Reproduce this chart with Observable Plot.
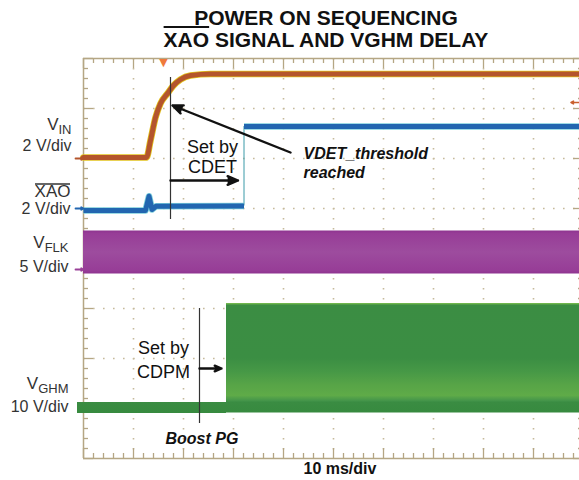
<!DOCTYPE html>
<html><head><meta charset="utf-8">
<script src="https://cdn.jsdelivr.net/npm/d3@7"></script>
<script src="https://cdn.jsdelivr.net/npm/@observablehq/plot@0.6"></script>
<style>
body{margin:0;background:#fff;}
#wrap{position:relative;width:579px;height:480px;overflow:hidden;}
#chart{position:absolute;left:0;top:0;}
#title{position:absolute;left:76px;top:7px;width:500px;text-align:center;font:bold 21px/22px "Liberation Sans",Arial,sans-serif;color:#111;z-index:2;}
.ov{text-decoration:overline;text-decoration-thickness:2px;}
</style></head>
<body><div id="wrap"><div id="chart"></div><div id="title"></div></div>
<script>
// ---- text ----
const titleLines = ["POWER ON SEQUENCING", "XAO SIGNAL AND VGHM DELAY"];
const overlinedWord = "XAO";
const timeLabel = "10 ms/div";

// ---- channels ----
const channelNames = ["VIN", "XAO", "VFLK", "VGHM"];
const channelOffsetDiv = [6.0, 5.0, 3.78, 1.0];
const channelVoltsPerDiv = [2, 2, 5, 10];
const channelColors = ["#b4552c", "#2266b0", "#9a4098", "#3a8c42"];
const labelMain = ["V", "XAO", "V", "V"];
const labelSub = ["IN", "", "FLK", "GHM"];

// ---- traces (time in ms, values in volts) ----
const vinTime  = [0, 12.6, 13.4, 14.4, 15.4, 16.8, 18.0, 19.4, 21.4, 25.4, 99.2];
const vinVolts = [0.04, 0.04, 0.72, 1.64, 2.2, 2.6, 2.92, 3.16, 3.32, 3.38, 3.38];

const xaoTime  = [0, 12.4, 13.1, 13.7, 14.5, 32.1, 32.1, 99.2];
const xaoVolts = [-0.08, -0.08, 0.49, -0.04, 0.09, 0.1, 3.28, 3.28];
const xaoSegment = [0, 0, 0, 0, 0, 0, 1, 1];

const vflkTime = [0, 99.2];
const vflkLow  = [-0.45, -0.45];
const vflkHigh = [3.85, 3.85];

const vghmTime = [-1.2, 28.6, 28.6, 99.2];
const vghmLow  = [-1.0, -1.0, -0.9, -0.9];
const vghmHigh = [1.2, 1.2, 21.0, 21.0];

// ---- helpers ----
const toDiv = (ch, v) => channelOffsetDiv[ch] + v / channelVoltsPerDiv[ch];
const vinRows = vinTime.map((t, i) => ({t, y: toDiv(0, vinVolts[i])}));
const xaoRows = xaoTime.map((t, i) => ({t, y: toDiv(1, xaoVolts[i]), seg: xaoSegment[i]}));
const xaoEdges = xaoRows.slice(1).map((r, i) => ({prev: xaoRows[i], cur: r})).filter(e => e.cur.seg !== e.prev.seg)
  .map(e => ({t: e.cur.t, y1: e.prev.y, y2: e.cur.y}));
const vflkRows = vflkTime.map((t, i) => ({t, lo: toDiv(2, vflkLow[i]), hi: toDiv(2, vflkHigh[i])}));
const vghmRows = vghmTime.map((t, i) => ({t, lo: toDiv(3, vghmLow[i]), hi: toDiv(3, vghmHigh[i])}));

const xMinor = d3.range(0, 100.001, 2).map(v => +v.toFixed(3));
const yMinor = d3.range(0, 8.0001, 0.2).map(v => +v.toFixed(3));
const xMajor = d3.range(10, 100, 10);
const yMajor = d3.range(1, 8, 1);
const xIsMajor = v => Math.abs(v / 10 - Math.round(v / 10)) < 1e-6;
const yIsMajor = v => Math.abs(v - Math.round(v)) < 1e-6;

const tan = "#b5a684", dotc = "#c6ba9c", ink = "#111";

// annotation layout (data coords: ms, div)
const labelRight = [-2.4, -2.6, -3.0, -3.0];
const mainRight  = [-5.0, -2.6, -7.76, -9.06];
const mainY = [6.58, 5.24, 4.22, 1.40];
const subY  = [6.49, 0, 4.13, 1.31];
const scaleY = [6.16, 4.90, 3.74, 0.94];
const chIdx = [0, 1, 2, 3];

const notes = [
  {text: "Set by", x: 25.8, y: 6.12},
  {text: "CDET", x: 25.8, y: 5.72},
  {text: "Set by", x: 16.0, y: 2.10},
  {text: "CDPM", x: 16.0, y: 1.62}
];
const boldNotes = [
  {text: "VDET_threshold", x: 44, y: 6.0},
  {text: "reached", x: 44, y: 5.62},
  {text: "Boost PG", x: 16.4, y: 0.30}
];
const arrows = [
  {x1: 41.4, y1: 6.12, x2: 17.8, y2: 7.06},
  {x1: 17.4, y1: 5.56, x2: 30.9, y2: 5.56},
  {x1: 23.2, y1: 1.8, x2: 27.6, y2: 1.8}
];
const markerLines = [
  {x: 17.4, y1: 7.62, y2: 4.78},
  {x: 23.2, y1: 3.0, y2: 0.7}
];

// ---- title ----
document.getElementById("title").innerHTML =
  titleLines[0] + "<br>" +
  titleLines[1].replace(overlinedWord, `<span class="ov">${overlinedWord}</span>`);

const plot = Plot.plot({
  width: 579, height: 480,
  marginLeft: 83, marginRight: 0, marginTop: 58, marginBottom: 22,
  x: {domain: [0, 99.2], axis: null},
  y: {domain: [0, 8], axis: null},
  style: {fontFamily: "'Liberation Sans', Arial, sans-serif", background: "transparent", overflow: "visible", color: ink},
  marks: [
    // dotted graticule
    Plot.ruleX(xMajor, {x: d => d, stroke: dotc, strokeWidth: 1.6, strokeDasharray: "1.6,8.4"}),
    Plot.ruleY(yMajor, {y: d => d, stroke: dotc, strokeWidth: 1.6, strokeDasharray: "1.6,8.4"}),
    // frame
    Plot.ruleX([0], {x: d => d, stroke: tan, strokeWidth: 1.5}),
    Plot.ruleY([0, 8], {y: d => d, stroke: tan, strokeWidth: 1.5}),
    // minor/major ticks
    Plot.ruleX(xMinor, {x: d => d, y1: 8, y2: d => xIsMajor(d) ? 7.8 : 7.9, stroke: tan, strokeWidth: 1.3}),
    Plot.ruleX(xMinor, {x: d => d, y1: 0, y2: d => xIsMajor(d) ? 0.2 : 0.1, stroke: tan, strokeWidth: 1.3}),
    Plot.ruleY(yMinor, {y: d => d, x1: 0, x2: d => yIsMajor(d) ? 2 : 1, stroke: tan, strokeWidth: 1.3}),
    Plot.ruleY(yMinor, {y: d => d, x1: 100, x2: d => yIsMajor(d) ? 98 : 99, stroke: tan, strokeWidth: 1.3}),
    // traces
    Plot.areaY(vflkRows, {x: "t", y1: "lo", y2: "hi", fill: "url(#flkGrad)"}),
    Plot.areaY(vghmRows, {x: "t", y1: "lo", y2: "hi", fill: "url(#ghmGrad)"}),
    Plot.line(vinRows, {x: "t", y: "y", stroke: "#e2c21c", strokeWidth: 6.6, curve: "monotone-x"}),
    Plot.line(vinRows, {x: "t", y: "y", stroke: channelColors[0], strokeWidth: 5, curve: "monotone-x"}),
    Plot.ruleX(xaoEdges, {x: "t", y1: "y1", y2: "y2", stroke: "#3a9aa8", strokeWidth: 1}),
    Plot.line(xaoRows, {x: "t", y: "y", z: "seg", stroke: "#7ccfdc", strokeWidth: 6.6, strokeLinecap: "butt"}),
    Plot.line(xaoRows, {x: "t", y: "y", z: "seg", stroke: channelColors[1], strokeWidth: 5, strokeLinecap: "butt"}),
    // channel ground markers
    Plot.arrow([0, 1, 2], {x1: -1.6, x2: 0, y1: i => channelOffsetDiv[i], y2: i => channelOffsetDiv[i], stroke: i => channelColors[i], fill: i => channelColors[i], strokeWidth: 1.8, headLength: 4, headAngle: 60}),
    // trigger markers
    Plot.text(["\u25BC"], {x: 16, y: 8, text: d => d, lineAnchor: "top", fill: "#ef7a3c", fontSize: 11, fontFamily: "DejaVu Sans"}),
    Plot.arrow([0], {x1: 99.2, x2: 97.5, y1: 7.12, y2: 7.12, stroke: "#c9602e", fill: "#c9602e", strokeWidth: 1.6, headLength: 4}),
    // annotation lines and arrows
    Plot.ruleX(markerLines, {x: "x", y1: "y1", y2: "y2", stroke: "#333", strokeWidth: 1.2}),
    Plot.arrow(arrows, {x1: "x1", y1: "y1", x2: "x2", y2: "y2", stroke: ink, fill: ink, strokeWidth: 2.4, headLength: 7, headAngle: 45, strokeLinejoin: "miter"}),
    // annotation text
    Plot.text(notes, {x: "x", y: "y", text: "text", textAnchor: "middle", lineAnchor: "bottom", fontSize: 18, fill: ink}),
    Plot.text(boldNotes, {x: "x", y: "y", text: "text", textAnchor: "start", lineAnchor: "bottom", fontSize: 16, fontWeight: "bold", fontStyle: "italic", fill: ink}),
    Plot.text([timeLabel], {x: 44, y: -0.30, text: d => d, textAnchor: "start", lineAnchor: "bottom", fontSize: 16, fontWeight: "bold", fill: ink}),
    // channel labels
    Plot.text(chIdx, {x: i => mainRight[i], y: i => mainY[i], text: i => labelMain[i], textAnchor: "end", lineAnchor: "bottom", fontSize: 17, fill: "#333"}),
    Plot.text(chIdx.filter(i => labelSub[i]), {x: i => labelRight[i], y: i => subY[i], text: i => labelSub[i], textAnchor: "end", lineAnchor: "bottom", fontSize: 13, fill: "#333"}),
    Plot.text(chIdx, {x: i => labelRight[i], y: i => scaleY[i], text: i => `${channelVoltsPerDiv[i]} V/div`, textAnchor: "end", lineAnchor: "bottom", fontSize: 16, fill: "#333"}),
    Plot.ruleY([5.49], {y: d => d, x1: -9.6, x2: -2.6, stroke: "#333", strokeWidth: 1.4})
  ]
});

// gradient definitions used by the band-like traces
const defs = d3.select(plot).insert("defs", ":first-child");
function grad(id, stops) {
  const g = defs.append("linearGradient").attr("id", id).attr("x1", 0).attr("y1", 0).attr("x2", 0).attr("y2", 1);
  stops.forEach(([o, c]) => g.append("stop").attr("offset", o).attr("stop-color", c));
}
grad("ghmGrad", [[0, "#80c250"], [0.02, "#3b8d43"], [0.5, "#3b8e43"], [0.62, "#469846"], [0.74, "#57a447"], [0.84, "#5fab48"], [0.89, "#43944a"], [0.9, "#3a8c42"], [1, "#378a3f"]]);
grad("flkGrad", [[0, "#8e3490"], [0.07, "#973d97"], [0.5, "#9d4c9e"], [0.93, "#973d97"], [1, "#8e3490"]]);

document.getElementById("chart").appendChild(plot);
</script></body></html>
